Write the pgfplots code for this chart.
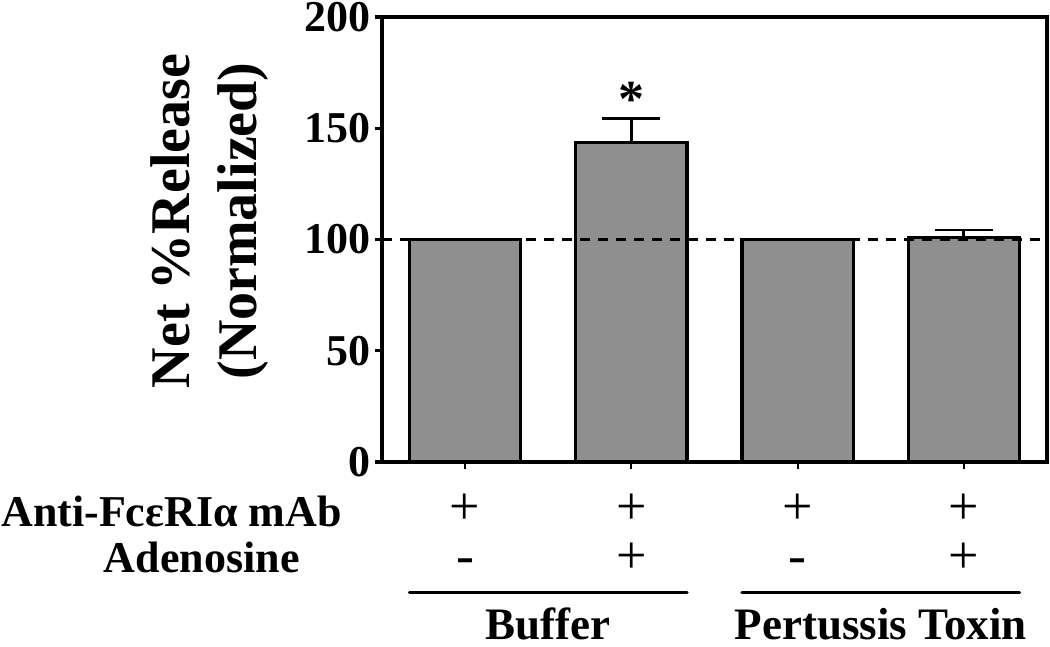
\documentclass[border=0pt]{standalone}
\usepackage{fontspec}
\setmainfont{Liberation Serif}
\usepackage{pgfplots}
\pgfplotsset{compat=1.18}
\definecolor{barfill}{RGB}{143,143,143}
\begin{document}
\begin{tikzpicture}
\useasboundingbox (-191pt,-92.5pt) rectangle (334pt,231pt);
\begin{axis}[
  at={(0,0)}, anchor=south west,
  scale only axis, width=332.5pt, height=222.5pt,
  xmin=-0.5, xmax=3.5, ymin=0, ymax=200,
  ytick={0,50,100,150,200},
  xtick={0,1,2,3}, xticklabels={},
  axis line style={line width=1.6pt, black},
  tick align=outside, tick pos=left,
  major tick length=3.5pt,
  ytick style={line width=1.6pt, black},
  xtick style={line width=1pt, black},
  /pgf/number format/assume math mode=true,
  yticklabel style={font=\fontsize{22}{24}\selectfont\bfseries, inner sep=2pt},
  clip=false,
]
\addplot[ybar, bar width=0.67, fill=barfill, draw=black, line width=1.6pt]
  coordinates {(0,100) (1,143.5) (2,100) (3,101)};
\addplot[black, line width=1.4pt, dash pattern=on 5pt off 4pt]
  coordinates {(-0.5,100) (3.5,100)};
\addplot[draw=none, mark=none,
  error bars/.cd, y dir=plus, y explicit, error mark=|,
  error bar style={draw=black, line width=1.4pt, solid},
  error mark options={draw=black, line width=1.4pt, mark size=14.5pt}]
  coordinates {(1,143.5) +- (0,10.8) (3,101) +- (0,3.3)};
\node[anchor=base, font=\fontsize{26}{30}\selectfont\bfseries] at (axis cs:1,155.5) {*};
% y label
\node[rotate=90, align=center, font=\fontsize{28}{33.5}\selectfont\bfseries]
  at ([xshift=-86pt, yshift=120.5pt]rel axis cs:0,0) {Net \%Release\\(Normalized)};
% row labels
\node[anchor=base east, font=\fontsize{22}{24}\selectfont\bfseries, inner sep=0pt]
  at ([xshift=-20pt, yshift=-32.5pt]rel axis cs:0,0) {Anti-FcεRIα mAb};
\node[anchor=base east, font=\fontsize{22}{24}\selectfont\bfseries, inner sep=0pt]
  at ([xshift=-41pt, yshift=-55.5pt]rel axis cs:0,0) {Adenosine};
% plus / minus rows
\node[anchor=base, font=\fontsize{27}{30}\selectfont] at ([yshift=-31.25pt]axis cs:0,0) {+};
\node[anchor=base, font=\fontsize{27}{30}\selectfont] at ([yshift=-31.25pt]axis cs:1,0) {+};
\node[anchor=base, font=\fontsize{27}{30}\selectfont] at ([yshift=-31.25pt]axis cs:2,0) {+};
\node[anchor=base, font=\fontsize{27}{30}\selectfont] at ([yshift=-31.25pt]axis cs:3,0) {+};
\node[anchor=base, font=\fontsize{27}{30}\selectfont] at ([yshift=-55.75pt]axis cs:0,0) {-};
\node[anchor=base, font=\fontsize{27}{30}\selectfont] at ([yshift=-55.75pt]axis cs:1,0) {+};
\node[anchor=base, font=\fontsize{27}{30}\selectfont] at ([yshift=-55.75pt]axis cs:2,0) {-};
\node[anchor=base, font=\fontsize{27}{30}\selectfont] at ([yshift=-55.75pt]axis cs:3,0) {+};
% group lines and names
\draw[line width=1.5pt, line cap=round] ([yshift=-65pt]axis cs:-0.335,0) -- ([yshift=-65pt]axis cs:1.335,0);
\draw[line width=1.5pt, line cap=round] ([yshift=-65pt]axis cs:1.665,0) -- ([yshift=-65pt]axis cs:3.335,0);
\node[anchor=base, font=\fontsize{22.5}{26}\selectfont\bfseries, inner sep=0pt] at ([yshift=-88.5pt]axis cs:0.5,0) {Buffer};
\node[anchor=base, font=\fontsize{22.5}{26}\selectfont\bfseries, inner sep=0pt] at ([yshift=-88.5pt]axis cs:2.5,0) {Pertussis Toxin};
\end{axis}
\end{tikzpicture}
\end{document}
